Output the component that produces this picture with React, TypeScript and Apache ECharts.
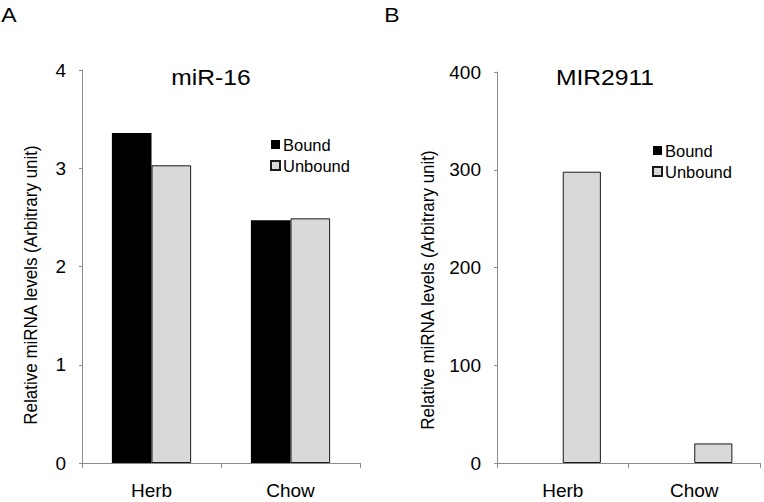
import React, { useEffect, useRef } from "react";
import * as echarts from "echarts";

const categories = ["Herb", "Chow"];
const seriesNames = ["Bound", "Unbound"];
const mir16Bound = [3.36, 2.47];
const mir16Unbound = [3.03, 2.49];
const mir2911Bound = [0, 0];
const mir2911Unbound = [298, 20];
const leftTicks = { min: 0, max: 4, interval: 1 };
const rightTicks = { min: 0, max: 400, interval: 100 };
const yName = "Relative miRNA levels (Arbitrary unit)";

const FONT = "'Liberation Sans', Arial, sans-serif";

export default function App() {
  const ref = useRef<HTMLDivElement>(null);
  useEffect(() => {
    if (!ref.current) return;
    const chart = echarts.init(ref.current, null, { renderer: "svg" });
    const axisLine = { show: true, lineStyle: { color: "#8c8c8c", width: 1 } };
    const xAxisCommon = {
      type: "category" as const,
      data: categories,
      axisLine,
      axisTick: { show: true, length: 5, lineStyle: { color: "#8c8c8c" } },
      axisLabel: { color: "#000", fontSize: 19, fontFamily: FONT, margin: 18 },
      splitLine: { show: false },
    };
    const yAxisCommon = {
      type: "value" as const,
      axisLine,
      axisTick: { show: true, length: 3, lineStyle: { color: "#8c8c8c" } },
      axisLabel: { color: "#000", fontSize: 19, fontFamily: FONT, margin: 16 },
      splitLine: { show: false },
    };
    const boundStyle = { color: "#000000", borderWidth: 0 };
    const unboundStyle = { color: "#d9d9d9", borderColor: "#1a1a1a", borderWidth: 1 };
    const legendCommon = {
      orient: "vertical" as const,
      icon: "rect",
      padding: 0,
      itemWidth: 9,
      itemHeight: 9,
      itemGap: 4,
      textStyle: { color: "#000", fontSize: 16.5, fontFamily: FONT, padding: [0, 0, 0, -2] },
      data: seriesNames,
    };
    const titleStyle = { fontSize: 22, fontFamily: FONT, fill: "#000", align: "center", verticalAlign: "middle" };
    chart.setOption({
      animation: false,
      backgroundColor: "#fff",
      grid: [
        { left: 82, right: 404, top: 70, bottom: 39 },
        { left: 497, right: 4, top: 72, bottom: 39 },
      ],
      legend: [
        { ...legendCommon, left: 270, top: 136 },
        { ...legendCommon, left: 652, top: 142 },
      ],
      xAxis: [
        { ...xAxisCommon, gridIndex: 0 },
        { ...xAxisCommon, gridIndex: 1 },
      ],
      yAxis: [
        { ...yAxisCommon, gridIndex: 0, ...leftTicks },
        { ...yAxisCommon, gridIndex: 1, ...rightTicks },
      ],
      series: [
        { name: seriesNames[0], type: "bar", xAxisIndex: 0, yAxisIndex: 0, data: mir16Bound, itemStyle: boundStyle, barGap: "0%", barCategoryGap: "43%" },
        { name: seriesNames[1], type: "bar", xAxisIndex: 0, yAxisIndex: 0, data: mir16Unbound, itemStyle: unboundStyle, barGap: "0%", barCategoryGap: "43%" },
        { name: seriesNames[0], type: "bar", xAxisIndex: 1, yAxisIndex: 1, data: mir2911Bound, itemStyle: boundStyle, barGap: "0%", barCategoryGap: "42%" },
        { name: seriesNames[1], type: "bar", xAxisIndex: 1, yAxisIndex: 1, data: mir2911Unbound, itemStyle: unboundStyle, barGap: "0%", barCategoryGap: "42%" },
      ],
      graphic: [
        { type: "text", x: 211, y: 77, scaleX: 1.12, style: { text: "miR-16", ...titleStyle } },
        { type: "text", x: 605, y: 77, scaleX: 1.12, style: { text: "MIR2911", ...titleStyle } },
        { type: "text", x: 9, y: 15, scaleX: 1.15, style: { text: "A", fontSize: 20, fontFamily: FONT, fill: "#000", align: "center", verticalAlign: "middle" } },
        { type: "text", x: 392, y: 15, scaleX: 1.15, style: { text: "B", fontSize: 20, fontFamily: FONT, fill: "#000", align: "center", verticalAlign: "middle" } },
        { type: "text", x: 31, y: 285, rotation: Math.PI / 2, scaleY: 1.12, style: { text: yName, fontSize: 17, fontFamily: FONT, fill: "#000", align: "center", verticalAlign: "middle" } },
        { type: "text", x: 428, y: 290, rotation: Math.PI / 2, scaleY: 1.12, style: { text: yName, fontSize: 17, fontFamily: FONT, fill: "#000", align: "center", verticalAlign: "middle" } },
      ],
    });
    return () => chart.dispose();
  }, []);
  return <div ref={ref} style={{ width: 764, height: 502, position: "absolute", left: 0, top: 0 }} />;
}
